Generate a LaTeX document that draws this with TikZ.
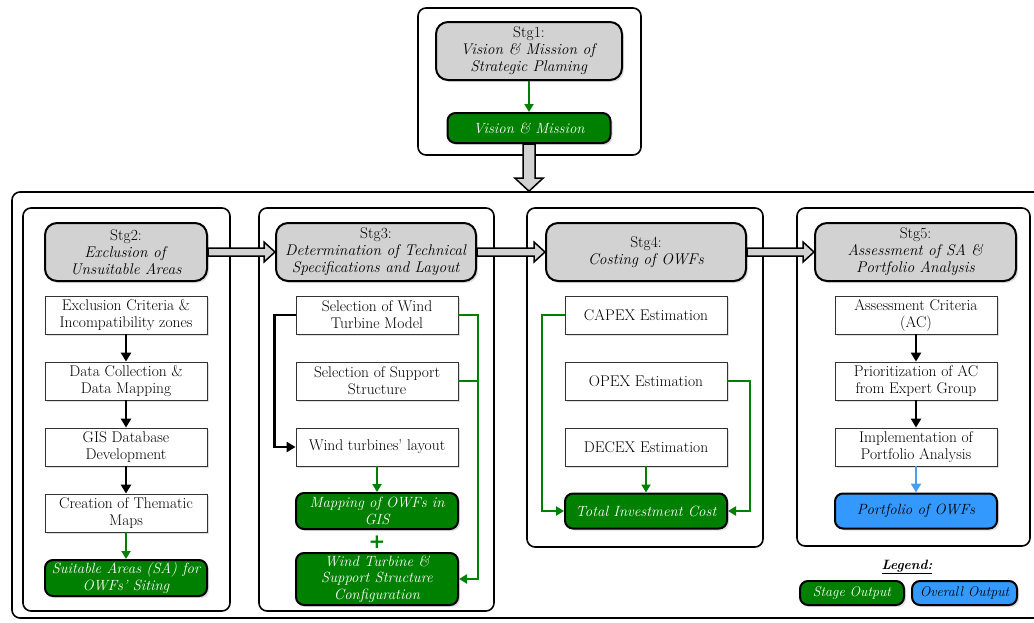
\documentclass[tikz,border=0pt]{standalone}
\usepackage{fontspec}
\newfontfamily\djv{DejaVu Sans}
\usetikzlibrary{arrows.meta,shadows,calc}
\definecolor{ogreen}{RGB}{0,128,0}
\definecolor{oblue}{RGB}{51,153,255}
\definecolor{hgray}{RGB}{210,210,210}
\definecolor{arrblue}{RGB}{74,158,240}
\newcommand\hollowh[2]{%
  \draw[hollow] let \p1=(#1),\p2=(#2) in
    (\x1,\y1+4pt) -- (\x2-11pt,\y1+4pt) -- (\x2-11pt,\y1+10pt) -- (\x2,\y1)
    -- (\x2-11pt,\y1-10pt) -- (\x2-11pt,\y1-4pt) -- (\x1,\y1-4pt) -- cycle;}
\begin{document}
\begin{tikzpicture}[x=1pt,y=-1pt,
  every node/.style={font=\fontsize{15.5}{17}\selectfont, inner sep=0pt, align=center},
  shad/.style={drop shadow={opacity=0.25,shadow xshift=2pt,shadow yshift=-2pt}},
  panel/.style={draw, line width=1.6pt, rounded corners=8pt, fill=white},
  header/.style={draw, line width=2pt, rounded corners=12pt, fill=hgray, shad, minimum height=58pt},
  task/.style={draw=black!80, line width=0.8pt, fill=white, shad, minimum width=162pt, minimum height=38pt},
  gout/.style={draw, line width=2pt, rounded corners=8pt, fill=ogreen, text=white, shad,
    font=\fontsize{14.8}{16.5}\selectfont\itshape, minimum width=162pt},
  bout/.style={draw, line width=2pt, rounded corners=8pt, fill=oblue, text=black, shad,
    font=\fontsize{14.8}{16.5}\selectfont\itshape, minimum width=162pt},
  barrow/.style={draw=black, line width=2.5pt, -{Triangle[length=9pt,width=10pt]}},
  garrow/.style={draw=ogreen, line width=2pt, -{Triangle[length=8pt,width=9pt]}},
  gline/.style={draw=ogreen, line width=2pt},
  blarrow/.style={draw=arrblue, line width=2.5pt, -{Triangle[length=9pt,width=10pt]}},
  hollow/.style={draw, line width=1.5pt, fill=hgray}
]
\useasboundingbox[fill=white] (0,0) rectangle (1034,622);

% ---- Stage 1 ----
\node[panel, minimum width=223pt, minimum height=147pt] (top) at (529.5,81.5) {};
\node[header, minimum width=186pt] (s1) at (529,51) {Stg1:\\\textit{Vision \& Mission of}\\\textit{Strategic Plaming}};
\node[gout, minimum width=163pt, minimum height=30pt] (vm) at (529,128) {Vision \& Mission};
\draw[garrow] (s1.south) -- (vm.north);

% ---- big frame ----
\node[panel, minimum width=1033pt, minimum height=426pt] (big) at (528.5,405) {};
\draw[hollow] let \p1=(vm.south),\p2=(big.north) in
  (\x1-6pt,\y1) -- (\x1-6pt,\y2+13pt) -- (\x1-14pt,\y2+13pt) -- (\x1,\y2)
  -- (\x1+14pt,\y2+13pt) -- (\x1+6pt,\y2+13pt) -- (\x1+6pt,\y1) -- cycle;

% ---- panels ----
\node[panel, minimum width=207pt, minimum height=403pt] (p2) at (126.5,409.5) {};
\node[panel, minimum width=235pt, minimum height=403pt] (p3) at (376.5,409.5) {};
\node[panel, minimum width=236pt, minimum height=339pt] (p4) at (645,377.5) {};
\node[panel, minimum width=233pt, minimum height=338pt] (p5) at (913.5,377) {};

% ---- headers ----
\node[header, minimum width=162pt] (s2) at (126,252) {Stg2:\\\textit{Exclusion of}\\\textit{Unsuitable Areas}};
\node[header, minimum width=200pt] (s3) at (376,252) {Stg3:\\\textit{Determination of Technical}\\\textit{Specifications and Layout}};
\node[header, minimum width=200pt] (s4) at (646,252) {Stg4:\\\textit{Costing of OWFs}};
\node[header, minimum width=201pt] (s5) at (915.5,252) {Stg5:\\\textit{Assessment of SA \&}\\\textit{Portfolio Analysis}};
\hollowh{s2.east}{s3.west}
\hollowh{s3.east}{s4.west}
\hollowh{s4.east}{s5.west}

% ---- Stage 2 ----
\node[task] (a1) at (126,315) {Exclusion Criteria \&\\Incompatibility zones};
\node[task] (a2) at (126,381) {Data Collection \&\\Data Mapping};
\node[task] (a3) at (126,447) {GIS Database\\Development};
\node[task] (a4) at (126,513) {Creation of Thematic\\Maps};
\node[gout, minimum height=36pt] (a5) at (126,578) {Suitable Areas (SA) for\\OWFs' Siting};
\draw[barrow] (a1) -- (a2);
\draw[barrow] (a2) -- (a3);
\draw[barrow] (a3) -- (a4);
\draw[garrow] (a4) -- (a5);

% ---- Stage 3 ----
\node[task] (b1) at (377,315) {Selection of Wind\\Turbine Model};
\node[task] (b2) at (377,381) {Selection of Support\\Structure};
\node[task] (b3) at (377,447) {Wind turbines' layout};
\node[gout, minimum height=36pt] (b4) at (377,511) {Mapping of OWFs in\\GIS};
\node[text=ogreen, font=\fontsize{20}{20}\selectfont\djv\bfseries] (plus) at (377,542) {+};
\node[gout, minimum height=52pt] (b5) at (377,579) {Wind Turbine \&\\Support Structure\\Configuration};
\draw[barrow] (b1.west) -- ++(-21,0) |- (b3.west);
\draw[garrow] (b1.east) -- ++(20,0) |- (b5.east);
\draw[gline] (b2.east) -- ++(20,0);
\draw[garrow] (b3) -- (b4);

% ---- Stage 4 ----
\node[task] (c1) at (646,315) {CAPEX Estimation};
\node[task] (c2) at (646,381) {OPEX Estimation};
\node[task] (c3) at (646,447) {DECEX Estimation};
\node[gout, minimum height=35pt] (c4) at (646,511) {Total Investment Cost};
\draw[garrow] (c1.west) -- ++(-23,0) |- (c4.west);
\draw[garrow] (c2.east) -- ++(23,0) |- (c4.east);
\draw[garrow] (c3) -- (c4);

% ---- Stage 5 ----
\node[task] (d1) at (916,315) {Assessment Criteria\\(AC)};
\node[task] (d2) at (916,381) {Prioritization of AC\\from Expert Group};
\node[task] (d3) at (916,447) {Implementation of\\Portfolio Analysis};
\node[bout, minimum height=35pt] (d4) at (916,511) {Portfolio of OWFs};
\draw[barrow] (d1) -- (d2);
\draw[barrow] (d2) -- (d3);
\draw[blarrow] (d3) -- (d4);

% ---- legend ----
\node[font=\fontsize{13.5}{15}\selectfont\bfseries\itshape] (leg) at (907,567) {\underline{Legend:}};
\node[gout, minimum width=104pt, minimum height=24pt, font=\fontsize{14}{15}\selectfont\itshape] (lg1) at (852,593) {Stage Output};
\node[bout, minimum width=105pt, minimum height=24pt, font=\fontsize{14}{15}\selectfont\itshape] (lg2) at (964.5,593) {Overall Output};
\end{tikzpicture}
\end{document}
